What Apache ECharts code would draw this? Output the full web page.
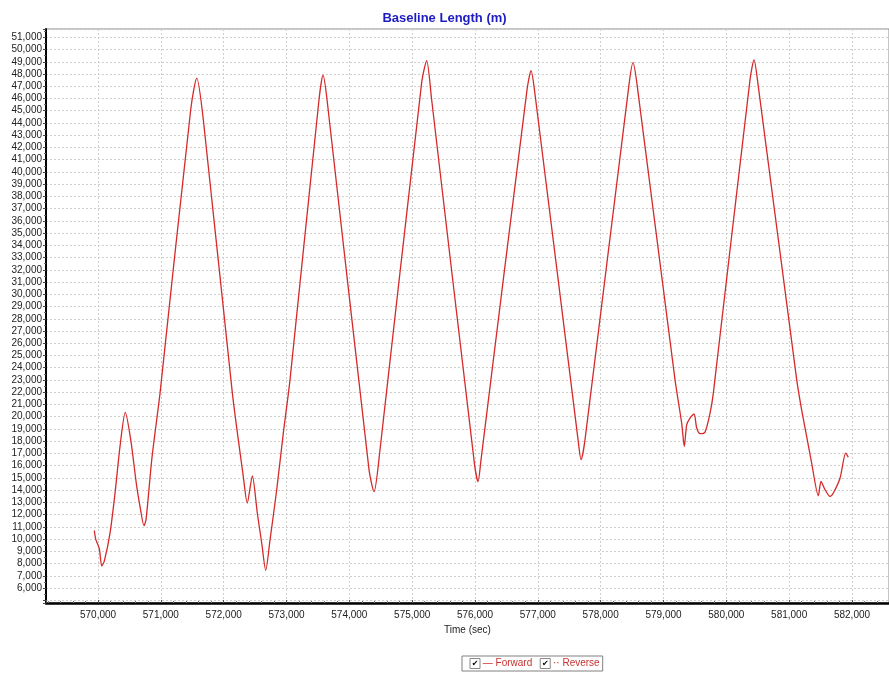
<!DOCTYPE html>
<html>
<head>
<meta charset="utf-8">
<script src="https://cdn.jsdelivr.net/npm/echarts@6/dist/echarts.min.js"></script>
<style>html,body{margin:0;padding:0;background:#fff}#c{width:889px;height:677px}</style>
</head>
<body>
<div id="c"></div>
<script>
// Forward series: time (sec) and baseline length (m)
var times = [569941,569963,570021,570059,570100,570191,570271,570350,570434,
  570520,570616,570668,570732,570764,570855,570934,570987,571475,571571,571676,
  572138,572312,572375,572456,572535,572605,572669,572738,572844,572949,573056,
  573517,573581,573645,574313,574393,574488,575150,575231,575310,
  575990,576048,576096,576828,576892,576956,577640,577688,577751,
  578451,578515,578579,579183,579289,579331,579369,579422,579486,579529,579582,579661,579741,579793,
  580377,580441,580505,581120,581198,581278,581358,581464,581507,581571,581650,581703,581810,581900,581941];
var values = [10700,10000,9200,7800,8200,10490,13760,17570,20350,
  18120,14300,12670,11090,11580,16480,19750,21930,45080,47670,44260,
  21930,15120,12940,15170,12130,9680,7440,9950,14030,18660,23030,
  45900,47910,45900,15670,13870,17300,47260,49100,45900,
  16200,14690,16490,46720,48270,46310,18120,16490,18120,
  47140,48930,47140,23030,19480,17570,19340,19890,20220,19070,18610,18740,20300,21930,
  47540,49160,47140,23030,20570,18390,16210,13540,14710,14030,13480,13760,14990,17030,16700];
var reverseValues = [];
var titleText = 'Baseline Length (m)';
var xName = 'Time (sec)';
var seriesNames = ['Forward', 'Reverse'];
var yFirstLabel = 6000;

var fwd = times.map(function (t, i) { return [t, values[i]]; });
var fmt = function (v) { return Math.round(v).toLocaleString('en-US'); };
var yfmt = function (v) { return v < yFirstLabel ? '' : fmt(v); };

var chart = echarts.init(document.getElementById('c'), null, {renderer: 'canvas'});
chart.setOption({
  backgroundColor: '#fff',
  animation: false,
  title: {
    text: titleText, left: 'center', top: 7,
    textStyle: {color: '#1c1cc0', fontSize: 13, fontWeight: 'bold', fontFamily: 'Liberation Sans, Arial, sans-serif'}
  },
  grid: {left: 46, top: 29, right: -2, bottom: 74, show: true, borderColor: '#8a8a8a', borderWidth: 1, backgroundColor: '#fff'},
  legend: {
    left: 462, top: 656, icon: 'none', itemWidth: 0, itemHeight: 0, itemGap: 3,
    borderColor: '#808080', borderWidth: 1, padding: [2, 3, 2, 3],
    data: seriesNames,
    formatter: function (n) {
      return '{box|✔}{t| ' + (n === 'Forward' ? '— ' : '·· ') + n + '}';
    },
    textStyle: {
      rich: {
        box: {fontFamily: 'DejaVu Sans', fontSize: 8, color: '#000', borderColor: '#888', borderWidth: 1, width: 10, height: 10, align: 'center', lineHeight: 11},
        t: {fontFamily: 'Liberation Sans, Arial', fontSize: 10, color: '#c83232'}
      }
    }
  },
  xAxis: {
    type: 'value', min: 569172, max: 582589, splitNumber: 13,
    name: xName, nameLocation: 'middle', nameGap: 22,
    nameTextStyle: {fontSize: 10, color: '#222', fontFamily: 'Liberation Sans, Arial'},
    axisLine: {show: true, onZero: false, lineStyle: {color: '#000', width: 2.5}},
    axisTick: {show: true, inside: true, length: 3, lineStyle: {color: '#555'}},
    minorTick: {show: true, splitNumber: 5, length: 2, lineStyle: {color: '#777'}},
    axisLabel: {showMinLabel: false, showMaxLabel: false, fontSize: 10, color: '#222', margin: 7, fontFamily: 'Liberation Sans, Arial', formatter: fmt},
    splitLine: {show: true, lineStyle: {color: '#cfcfcf', type: [2, 2], width: 1}}
  },
  yAxis: {
    type: 'value', min: 4775, max: 51680, splitNumber: 47,
    axisLine: {show: true, onZero: false, lineStyle: {color: '#000', width: 2}},
    axisTick: {show: true, length: 3, lineStyle: {color: '#444'}},
    minorTick: {show: true, splitNumber: 2, length: 2, lineStyle: {color: '#666'}},
    axisLabel: {showMinLabel: false, showMaxLabel: false, fontSize: 10, color: '#222', margin: 4, fontFamily: 'Liberation Sans, Arial', formatter: yfmt},
    splitLine: {show: true, lineStyle: {color: '#cfcfcf', type: [2, 2], width: 1}}
  },
  series: [
    {name: seriesNames[0], type: 'line', data: fwd, showSymbol: false, smooth: 0.25,
     lineStyle: {color: '#d42a2a', width: 1.3}, itemStyle: {color: '#d42a2a'}},
    {name: seriesNames[1], type: 'line', data: reverseValues, showSymbol: false,
     lineStyle: {color: '#d42a2a', width: 1, type: 'dashed'}, itemStyle: {color: '#d42a2a'}}
  ]
});
</script>
</body>
</html>
